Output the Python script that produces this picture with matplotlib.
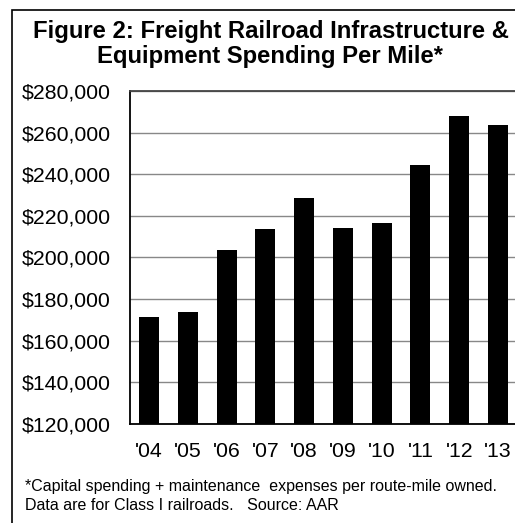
import matplotlib
matplotlib.use("Agg")
import matplotlib.pyplot as plt
from matplotlib.patches import Rectangle
from matplotlib.ticker import FuncFormatter, MultipleLocator

plt.rcParams['font.family'] = ['Liberation Sans', 'DejaVu Sans']

years = ["'04", "'05", "'06", "'07", "'08", "'09", "'10", "'11", "'12", "'13"]
spending = [171600, 174000, 203500, 213700, 228800, 214400, 216800, 244600, 267800, 263800]

W, H = 515, 523
fig = plt.figure(figsize=(W / 100, H / 100), dpi=100)

# outer border (cropped on right and bottom)
fig.patches.append(Rectangle((12 / W, -0.1), 1.2, (H - 10) / H + 0.1, transform=fig.transFigure,
                             fill=False, edgecolor='black', linewidth=1.2))

left, right_px, top, bottom = 130, 517.8, 91, 424
ax = fig.add_axes([left / W, (H - bottom) / H, (right_px - left) / W, (bottom - top) / H])
x = list(range(len(years)))
ax.bar(x, spending, width=0.516, color='black', zorder=3)
ax.set_xlim(-0.49, 9.51)
ax.set_ylim(120000, 280000)
ax.yaxis.set_major_locator(MultipleLocator(20000))
ax.yaxis.set_major_formatter(FuncFormatter(lambda v, p: "${:,.0f}".format(v)))
ax.set_xticks(x)
ax.set_xticklabels(years)
ax.tick_params(axis='both', length=0, labelsize=15.3)
ax.tick_params(axis='x', pad=13)
ax.tick_params(axis='y', pad=14)
ax.grid(axis='y', color='#888888', linewidth=1.0, zorder=0)
for s in ['left', 'bottom']:
    ax.spines[s].set_color('black')
    ax.spines[s].set_linewidth(1.3)
ax.spines['top'].set_color('#444444')
ax.spines['top'].set_linewidth(1.3)
ax.spines['right'].set_visible(False)

fig.text(271 / W, 1 - 38 / H, "Figure 2: Freight Railroad Infrastructure &",
         ha='center', va='baseline', fontsize=17.2, fontweight='bold')
fig.text(270 / W, 1 - 63 / H, "Equipment Spending Per Mile*",
         ha='center', va='baseline', fontsize=17.2, fontweight='bold')

fig.text(25 / W, 1 - 486 / H, "*Capital spending + maintenance  expenses per route-mile owned.",
         ha='left', va='center', fontsize=11.5)
fig.text(25 / W, 1 - 506 / H, "Data are for Class I railroads.   Source: AAR",
         ha='left', va='center', fontsize=11.5)

fig.savefig("out.png", dpi=100)
